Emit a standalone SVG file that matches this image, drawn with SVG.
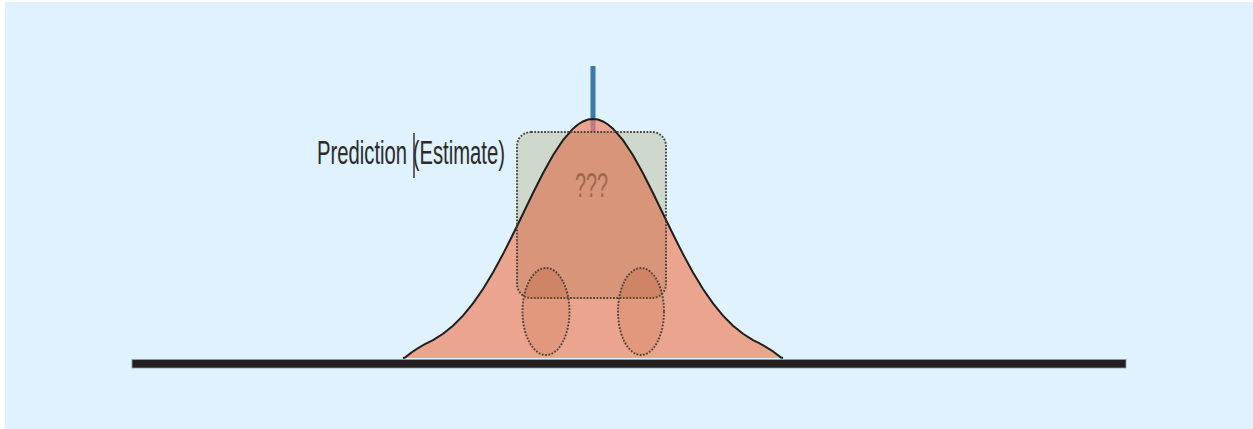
<svg xmlns="http://www.w3.org/2000/svg" xmlns:xlink="http://www.w3.org/1999/xlink" width="1253" height="429" viewBox="0 0 1253 429">
<style>
.dot{fill:none;stroke:#4a423c;stroke-width:1.9;stroke-dasharray:1.8 1.5}
.lbl{font-family:"Liberation Sans",Arial,sans-serif;fill:#2b2b2b}
</style>
<defs>
<path id="gpath" d="M 403 358 L 405 357.5 Q 418 347 433 340.2 L 443 333.8 L 453 325.7 L 463 315.6 L 473 303.4 L 483 289 L 493 272.5 L 503 254.1 L 513 234.3 L 523 213.7 L 533 193 L 543 173.3 L 553 155.3 L 563 140.2 L 573 128.7 L 578 124.5 L 583 121.5 L 588 119.6 L 593 119 L 598 119.6 L 603 121.5 L 608 124.5 L 613 128.7 L 623 140.2 L 633 155.3 L 643 173.3 L 653 193 L 663 213.7 L 673 234.3 L 683 254.1 L 693 272.5 L 703 289 L 713 303.4 L 723 315.6 L 733 325.7 L 743 333.8 L 753 340.2 Q 768 347 781 357.5 L 783 358"/>
<clipPath id="gclip"><use xlink:href="#gpath"/></clipPath>
<clipPath id="bodyclip"><rect x="517" y="132" width="149" height="166" rx="14"/></clipPath>
</defs>
<rect id="background" x="5" y="2" width="1248" height="427" fill="#e0f2fd"/>
<g id="marker-line">
<rect x="590.5" y="66" width="5" height="54" fill="#3a7aa6"/>
</g>
<g id="car-body-back">
<rect x="517" y="132" width="149" height="166" rx="14" fill="#cfd8cc"/>
</g>
<g id="gaussian">
<use xlink:href="#gpath" fill="#eba58e"/>
<rect x="517" y="132" width="149" height="166" fill="#d9957a" clip-path="url(#gclip)" rx="14"/>
<rect x="590.5" y="119" width="5" height="13" fill="#c07a85" clip-path="url(#gclip)"/>
<use xlink:href="#gpath" fill="none" stroke="#1e1e1e" stroke-width="2"/>
</g>
<g id="car">
<rect class="dot" x="517" y="132" width="149" height="166" rx="14"/>
<g id="wheel-left">
<ellipse cx="546" cy="311.5" rx="23.5" ry="43.5" fill="#b5562a" fill-opacity="0.17"/>
<ellipse cx="546" cy="311.5" rx="23.5" ry="43.5" fill="#b5562a" fill-opacity="0.1" clip-path="url(#bodyclip)"/>
<ellipse class="dot" cx="546" cy="311.5" rx="23.5" ry="43.5"/>
</g>
<g id="wheel-right">
<ellipse cx="641" cy="311.5" rx="23" ry="43.5" fill="#b5562a" fill-opacity="0.17"/>
<ellipse cx="641" cy="311.5" rx="23" ry="43.5" fill="#b5562a" fill-opacity="0.1" clip-path="url(#bodyclip)"/>
<ellipse class="dot" cx="641" cy="311.5" rx="23" ry="43.5"/>
</g>
<text transform="translate(575,197) scale(0.565,1)" font-size="35" font-family="Liberation Sans, Arial, sans-serif" fill="#a0654f">???</text>
</g>
<g id="baseline">
<rect x="132" y="359.5" width="994" height="8.5" fill="#231f20" stroke="#8f9ba3" stroke-width="0.8"/>
</g>
<g id="label">
<text class="lbl" transform="translate(317,164) scale(0.596,1)" font-size="34">Prediction (Estimate)</text>
<line x1="414" y1="133" x2="414" y2="178" stroke="#333" stroke-width="1.5"/>
</g>
</svg>
